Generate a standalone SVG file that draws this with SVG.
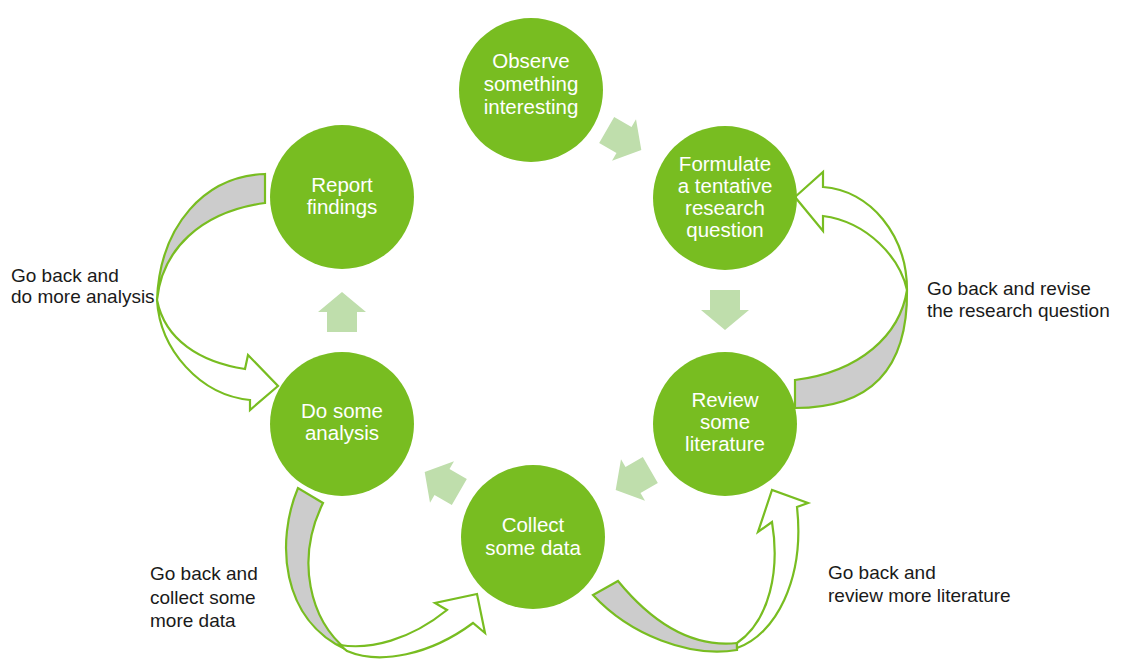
<svg xmlns="http://www.w3.org/2000/svg" width="1121" height="663" viewBox="0 0 1121 663">
  <style>
    .node { fill: #78bd21; }
    .ntext { fill: #ffffff; font-family: "Liberation Sans", Arial, sans-serif; font-size: 20.5px; text-anchor: middle; }
    .label { fill: #1a1a1a; font-family: "Liberation Sans", Arial, sans-serif; font-size: 19px; }
    .step { fill: #bfdeac; }
    .back { fill: #cccccc; stroke: #78bd21; stroke-width: 2.2; stroke-linejoin: miter; }
    .front { fill: #ffffff; stroke: #78bd21; stroke-width: 2.2; stroke-linejoin: miter; }
  </style>
  <defs>
    <polygon id="blk" points="0,-20 24,0 15,0 15,20 -15,20 -15,0 -24,0"/>
  </defs>
  <rect width="1121" height="663" fill="#ffffff"/>

  <g id="connectors">
    <use href="#blk" class="step" transform="translate(624,140) rotate(120)"/>
    <use href="#blk" class="step" transform="translate(725,310) rotate(180)"/>
    <use href="#blk" class="step" transform="translate(633,480) rotate(-120)"/>
    <use href="#blk" class="step" transform="translate(442,482) rotate(-60)"/>
    <use href="#blk" class="step" transform="translate(342,312)"/>

    <g id="loop-analysis">
      <path class="back" d="M265,174 C205,176 160,225 157,300 C162,250 200,212 265,203 Z"/>
      <path class="front" d="M157,300 C160,350 200,395 250,400 L250,410 L278,386 L248,355 L245,369 C200,362 165,340 157,300 Z"/>
    </g>
    <g id="loop-question">
      <path class="back" d="M795,380 C860,372 900,335 907,290 C908,370 870,408 795,408 Z"/>
      <path class="front" d="M907,290 C907,235 870,190 823,187 L823,172 L795,197 L823,231 L823,216 C868,222 900,258 907,290 Z"/>
    </g>
    <g id="loop-data">
      <path class="back" d="M298,488 C276,540 280,620 347,650 C310,620 295,560 323,503 Z"/>
      <path class="front" d="M347,651 C380,665 430,655 473,623 L485,633 L477,594 L435,603 L447,610 C410,640 370,650 340,645 Z"/>
    </g>
    <g id="loop-literature">
      <path class="back" d="M593,595 C630,635 690,658 737,650 L737,643 C690,648 650,620 618,581 Z"/>
      <path class="front" d="M737,648 C775,635 805,580 797,507 L808,503 L772,490 L758,532 L772,522 C780,570 770,620 737,643 Z"/>
    </g>
  </g>

  <g id="observe">
    <circle class="node" cx="531" cy="90" r="72"/>
    <text class="ntext" x="531" y="68">Observe</text>
    <text class="ntext" x="531" y="91">something</text>
    <text class="ntext" x="531" y="114">interesting</text>
  </g>
  <g id="formulate">
    <circle class="node" cx="725" cy="198" r="72"/>
    <text class="ntext" x="725" y="171">Formulate</text>
    <text class="ntext" x="725" y="193">a tentative</text>
    <text class="ntext" x="725" y="215">research</text>
    <text class="ntext" x="725" y="237">question</text>
  </g>
  <g id="review">
    <circle class="node" cx="725" cy="424" r="72"/>
    <text class="ntext" x="725" y="407">Review</text>
    <text class="ntext" x="725" y="429">some</text>
    <text class="ntext" x="725" y="451">literature</text>
  </g>
  <g id="collect">
    <circle class="node" cx="533" cy="537" r="72"/>
    <text class="ntext" x="533" y="532">Collect</text>
    <text class="ntext" x="533" y="555">some data</text>
  </g>
  <g id="analysis">
    <circle class="node" cx="342" cy="424" r="72"/>
    <text class="ntext" x="342" y="418">Do some</text>
    <text class="ntext" x="342" y="440">analysis</text>
  </g>
  <g id="report">
    <circle class="node" cx="342" cy="197" r="72"/>
    <text class="ntext" x="342" y="192">Report</text>
    <text class="ntext" x="342" y="214">findings</text>
  </g>

  <g id="labels">
    <text class="label" x="11" y="282">Go back and</text>
    <text class="label" x="11" y="303">do more analysis</text>
    <text class="label" x="927" y="295">Go back and revise</text>
    <text class="label" x="927" y="317">the research question</text>
    <text class="label" x="150" y="580">Go back and</text>
    <text class="label" x="150" y="604">collect some</text>
    <text class="label" x="150" y="627">more data</text>
    <text class="label" x="828" y="579">Go back and</text>
    <text class="label" x="828" y="602">review more literature</text>
  </g>
</svg>
